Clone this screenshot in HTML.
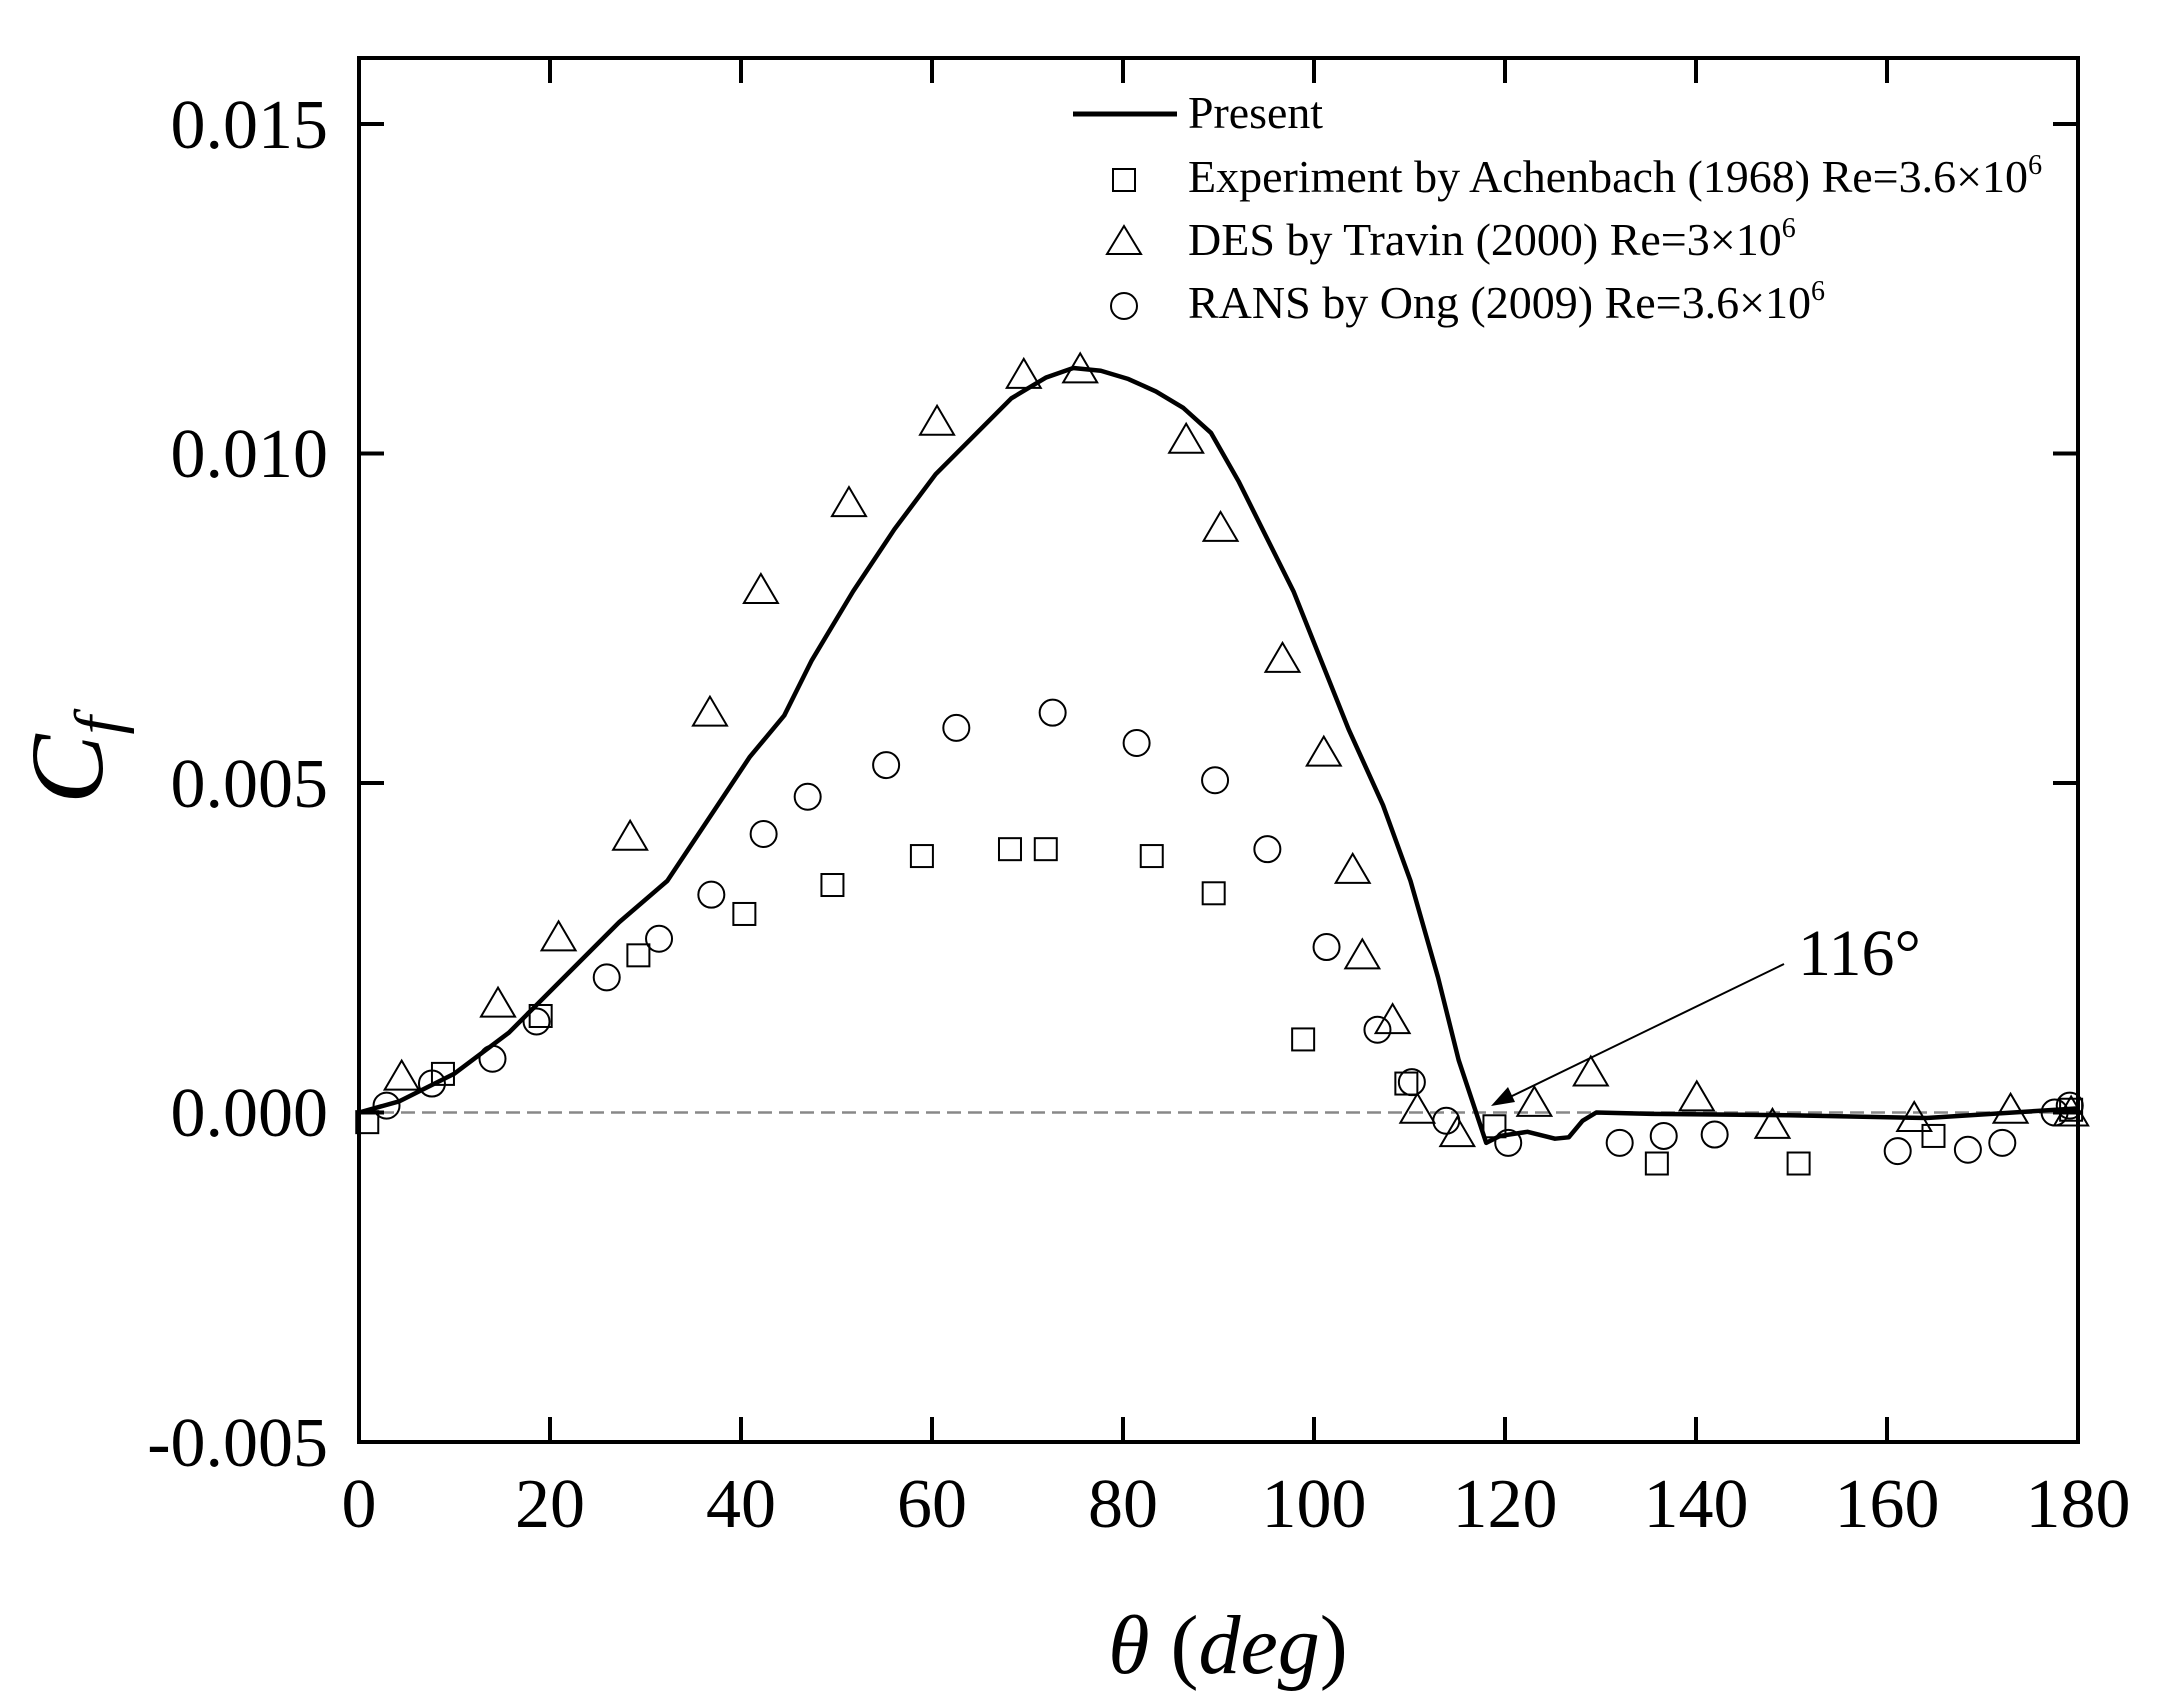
<!DOCTYPE html>
<html><head><meta charset="utf-8"><style>
html,body{margin:0;padding:0;background:#fff;}
svg{display:block;}
text{font-family:"Liberation Serif",serif;fill:#000;}
</style></head><body>
<svg id="s" width="2158" height="1706" viewBox="0 0 2158 1706" xmlns="http://www.w3.org/2000/svg">
<rect width="2158" height="1706" fill="#fff"/>
<line x1="359" y1="1112.5" x2="2078" y2="1112.5" stroke="#888" stroke-width="2.5" stroke-dasharray="14,7"/>
<g id="ticks" stroke="#000" stroke-width="4"></g>
<g id="data"></g>
<rect x="359" y="58" width="1719" height="1384" fill="none" stroke="#000" stroke-width="4"/>
<g font-size="70" text-anchor="end">
<text x="328" y="148">0.015</text>
<text x="328" y="477">0.010</text>
<text x="328" y="807">0.005</text>
<text x="328" y="1136">0.000</text>
<text x="328" y="1466">-0.005</text>
</g>
<g font-size="70" text-anchor="middle" id="xl"></g>
<text x="1228" y="1673" font-size="84" text-anchor="middle"><tspan font-style="italic">θ</tspan> (<tspan font-style="italic">deg</tspan>)</text>
<g transform="translate(102,760) rotate(-90)"><text x="0" y="0" font-size="104" font-style="italic" text-anchor="middle">C<tspan font-size="66" dy="18">f</tspan></text></g>
<text x="1798" y="975" font-size="66">116°</text>
<line x1="1784" y1="964" x2="1510" y2="1097" stroke="#000" stroke-width="2"/>
<polygon points="1491,1106 1508,1087 1515,1102" fill="#000"/>
<!-- legend -->
<line x1="1073" y1="114" x2="1177" y2="114" stroke="#000" stroke-width="5"/>
<g font-size="46">
<text x="1188" y="128" textLength="135" lengthAdjust="spacingAndGlyphs">Present</text>
<text x="1188" y="192">Experiment by Achenbach (1968) Re=3.6×10<tspan font-size="28" dy="-18">6</tspan></text>
<text x="1188" y="255">DES by Travin (2000) Re=3×10<tspan font-size="28" dy="-18">6</tspan></text>
<text x="1188" y="318">RANS by Ong (2009) Re=3.6×10<tspan font-size="28" dy="-18">6</tspan></text>
</g>
<rect x="1113" y="169" width="22" height="22" fill="none" stroke="#000" stroke-width="2"/>
<polygon points="1124,226 1107,254 1141,254" fill="none" stroke="#000" stroke-width="2"/>
<circle cx="1124" cy="306" r="13" fill="none" stroke="#000" stroke-width="2"/>
</svg>
<script>
var NS="http://www.w3.org/2000/svg";
function X(d){return 359+(d-261)*1.3763;}
function Y(d){return 1112.5+(d-808)*1.3787;}
function el(t,a,p){var e=document.createElementNS(NS,t);for(var k in a)e.setAttribute(k,a[k]);p.appendChild(e);return e;}
var tk=document.getElementById('ticks'),xl=document.getElementById('xl'),dg=document.getElementById('data');
for(var i=0;i<=9;i++){var x=359+i*1719/9;
 el('line',{x1:x,y1:1442,x2:x,y2:1417},tk);el('line',{x1:x,y1:58,x2:x,y2:83},tk);
 var t=el('text',{x:x,y:1527},xl);t.textContent=String(i*20);}
for(var j=0;j<=4;j++){var y=124+j*329.5;
 el('line',{x1:359,y1:y,x2:384,y2:y},tk);el('line',{x1:2078,y1:y,x2:2053,y2:y},tk);}
var cur=[[261,808],[290,800],[330,780],[370,750],[410,710],[450,670],[485,640],[515,595],[545,550],[570,520],[590,480],[620,430],[650,385],[680,345],[710,315],[735,290],[760,275],[780,268],[800,270],[820,276],[840,285],[860,297],[880,315],[900,350],[920,390],[940,430],[960,480],[980,530],[1005,585],[1025,640],[1045,710],[1060,770],[1070,800],[1080,830],[1090,825],[1110,822],[1130,827],[1140,826],[1150,814],[1160,808],[1200,809],[1300,810],[1400,812],[1510,805]];
el('polyline',{points:cur.map(function(p){return X(p[0])+','+Y(p[1]);}).join(' '),fill:'none',stroke:'#000','stroke-width':4.5,'stroke-linejoin':'round'},dg);
var sq=[[267,815],[322,780],[393,738],[464,694],[541,664],[605,643],[670,622],[734,617],[760,617],[837,622],[882,649],[947,755],[1022,787],[1086,818],[1204,845],[1307,845],[1405,825],[1505,806]];
sq.forEach(function(p){el('rect',{x:X(p[0])-11,y:Y(p[1])-11,width:22,height:22,fill:'none',stroke:'#000','stroke-width':2},dg);});
var tr=[[292,782],[362,729],[406,681],[458,608],[516,518],[553,429],[617,366],[681,307],[744,273],[785,269],[862,320],[887,384],[932,479],[962,547],[983,632],[990,694],[1012,741],[1030,806],[1059,823],[1115,801],[1156,779],[1233,797],[1288,817],[1391,812],[1461,806],[1505,808]];
tr.forEach(function(p){var x=X(p[0]),y=Y(p[1]);el('polygon',{points:x+','+(y-16)+' '+(x-17)+','+(y+13)+' '+(x+17)+','+(y+13),fill:'none',stroke:'#000','stroke-width':2},dg);});
var ci=[[281,803],[314,787],[358,769],[390,742],[441,710],[479,682],[517,650],[555,606],[587,579],[644,556],[695,529],[765,518],[826,540],[883,567],[921,617],[964,688],[1001,748],[1026,786],[1051,814],[1096,830],[1177,830],[1209,825],[1246,824],[1379,836],[1430,835],[1455,830],[1493,808],[1504,803]];
ci.forEach(function(p){el('circle',{cx:X(p[0]),cy:Y(p[1]),r:13,fill:'none',stroke:'#000','stroke-width':2},dg);});
</script>
</body></html>
